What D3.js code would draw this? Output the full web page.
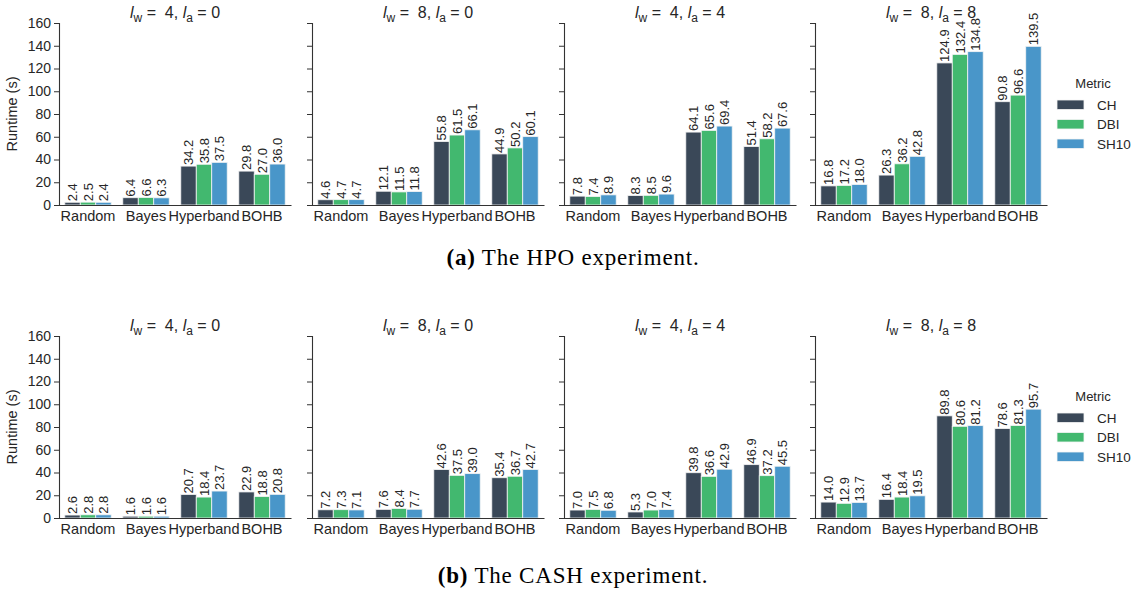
<!DOCTYPE html>
<html>
<head>
<meta charset="utf-8">
<script src="https://cdn.jsdelivr.net/npm/d3@7"></script>
<style>
  body { margin: 0; background: #fff; }
  svg { display: block; }
  text { font-family: "Liberation Sans", Arial, sans-serif; fill: #262626; }
  .caption { font-family: "Liberation Serif", "Times New Roman", serif; fill: #000; }
</style>
</head>
<body>
<div id="container"></div>
<script>
const methods = ["Random", "Bayes", "Hyperband", "BOHB"];
const metrics = ["CH", "DBI", "SH10"];
const lwValues = [4, 8, 4, 8];
const laValues = [0, 0, 4, 8];
const yTicks = [0, 20, 40, 60, 80, 100, 120, 140, 160];

// HPO runtimes, rows = methods, cols = CH / DBI / SH10
const hpoW4A0 = [[2.4, 2.5, 2.4], [6.4, 6.6, 6.3], [34.2, 35.8, 37.5], [29.8, 27.0, 36.0]];
const hpoW8A0 = [[4.6, 4.7, 4.7], [12.1, 11.5, 11.8], [55.8, 61.5, 66.1], [44.9, 50.2, 60.1]];
const hpoW4A4 = [[7.8, 7.4, 8.9], [8.3, 8.5, 9.6], [64.1, 65.6, 69.4], [51.4, 58.2, 67.6]];
const hpoW8A8 = [[16.8, 17.2, 18.0], [26.3, 36.2, 42.8], [124.9, 132.4, 134.8], [90.8, 96.6, 139.5]];

// CASH runtimes
const cashW4A0 = [[2.6, 2.8, 2.8], [1.6, 1.6, 1.6], [20.7, 18.4, 23.7], [22.9, 18.8, 20.8]];
const cashW8A0 = [[7.2, 7.3, 7.1], [7.6, 8.4, 7.7], [42.6, 37.5, 39.0], [35.4, 36.7, 42.7]];
const cashW4A4 = [[7.0, 7.5, 6.8], [5.3, 7.0, 7.4], [39.8, 36.6, 42.9], [46.9, 37.2, 45.5]];
const cashW8A8 = [[14.0, 12.9, 13.7], [16.4, 18.4, 19.5], [89.8, 80.6, 81.2], [78.6, 81.3, 95.7]];

const experiments = [
  { panels: [hpoW4A0, hpoW8A0, hpoW4A4, hpoW8A8], caption: ["(a)", " The HPO experiment."] },
  { panels: [cashW4A0, cashW8A0, cashW4A4, cashW8A8], caption: ["(b)", " The CASH experiment."] },
];

const width = 1136, height = 594;
const panelLeft = [59, 312, 564, 815];
const panelW = 232;
const rowTop = [23, 336];
const plotH = 182;

const color = d3.scaleOrdinal().domain(metrics).range(["#3a4858", "#42b86f", "#4996c9"]);

const svg = d3.select("#container").append("svg")
  .attr("width", width).attr("height", height);

const y = d3.scaleLinear().domain([0, 160]).range([plotH, 0]);
const x0 = d3.scaleBand().domain(methods).range([0, panelW]).paddingInner(0.2).paddingOuter(0.1);
const x1 = d3.scaleBand().domain(metrics).range([0, x0.bandwidth()]);

experiments.forEach((exp, r) => {
  exp.panels.forEach((data, p) => {
    const g = svg.append("g").attr("transform", `translate(${panelLeft[p]},${rowTop[r]})`);

    // title
    const t = g.append("text")
      .attr("x", panelW / 2).attr("y", -5)
      .attr("text-anchor", "middle")
      .style("font-size", "16px")
      .style("white-space", "pre");
    t.append("tspan").style("font-style", "italic").text("l");
    t.append("tspan").attr("dy", 4).style("font-size", "12px").text("w");
    t.append("tspan").attr("dy", -4).text(` =  ${lwValues[p]}, `);
    t.append("tspan").style("font-style", "italic").text("l");
    t.append("tspan").attr("dy", 4).style("font-size", "12px").text("a");
    t.append("tspan").attr("dy", -4).text(` = ${laValues[p]}`);

    const groups = g.selectAll(".grp")
      .data(methods)
      .enter()
      .append("g")
      .attr("transform", (m) => `translate(${x0(m)},0)`);

    groups.each(function (m, i) {
      const vals = metrics.map((k, j) => ({ metric: k, value: data[i][j] }));
      const gg = d3.select(this);
      gg.selectAll("rect")
        .data(vals)
        .enter()
        .append("rect")
        .attr("x", (d) => x1(d.metric))
        .attr("y", (d) => y(d.value))
        .attr("width", x1.bandwidth())
        .attr("height", (d) => plotH - y(d.value))
        .style("fill", (d) => color(d.metric))
        .style("stroke", "#f4f4f4")
        .style("stroke-width", 0.8);
      gg.selectAll("text")
        .data(vals)
        .enter()
        .append("text")
        .attr("transform", (d) =>
          `translate(${x1(d.metric) + x1.bandwidth() / 2 + 4.5},${y(d.value) - 1}) rotate(-90)`)
        .style("font-size", "13px")
        .text((d) => d.value.toFixed(1));
    });

    // axes
    const yAxis = d3.axisLeft(y).tickValues(yTicks).tickSize(5).tickPadding(3);
    if (p > 0) yAxis.tickFormat("");
    const ya = g.append("g").call(yAxis);
    ya.selectAll("text").style("font-size", "14px");

    const xa = g.append("g").attr("transform", `translate(0,${plotH})`)
      .call(d3.axisBottom(x0).tickSize(0).tickPadding(6));
    xa.selectAll("text").style("font-size", "14.5px");

    g.selectAll(".domain").attr("stroke", "#333").attr("stroke-width", 1.1);
    g.selectAll(".tick line").attr("stroke", "#333");

    if (p === 0) {
      g.append("text")
        .attr("transform", `translate(-42,${plotH / 2}) rotate(-90)`)
        .attr("text-anchor", "middle")
        .style("font-size", "14.5px")
        .text("Runtime (s)");
    }
  });

  // legend
  const lg = svg.append("g").attr("transform", `translate(1057,${rowTop[r] + 65})`);
  lg.append("text")
    .attr("x", 36).attr("y", 0)
    .attr("text-anchor", "middle")
    .style("font-size", "13px")
    .text("Metric");
  metrics.forEach((k, i) => {
    lg.append("rect")
      .attr("x", 0).attr("y", 12 + i * 19.5)
      .attr("width", 27).attr("height", 9.5)
      .style("fill", color(k))
      .style("stroke", "#f4f4f4").style("stroke-width", 0.8);
    lg.append("text")
      .attr("x", 40).attr("y", 21.5 + i * 19.5)
      .style("font-size", "13.5px")
      .text(k);
  });

  // caption
  const cap = svg.append("text")
    .attr("class", "caption")
    .attr("x", 573).attr("y", r === 0 ? 265 : 583)
    .attr("text-anchor", "middle")
    .style("font-size", "23px")
    .style("letter-spacing", "0.8px")
    .style("white-space", "pre");
  cap.append("tspan").style("font-weight", "bold").text(exp.caption[0]);
  cap.append("tspan").text(exp.caption[1]);
});
</script>
</body>
</html>
